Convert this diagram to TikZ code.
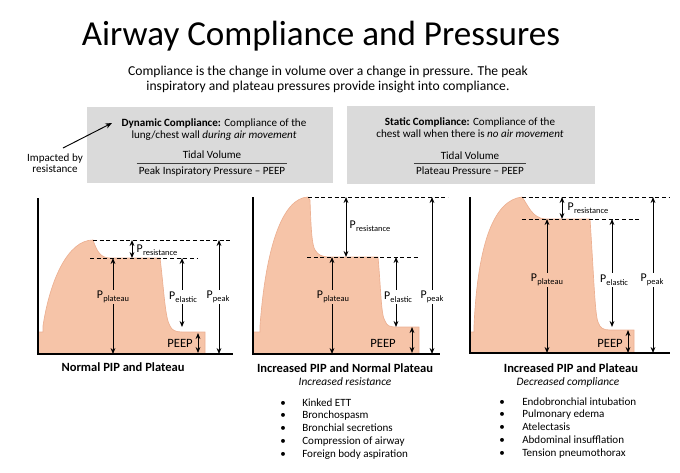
\documentclass[tikz,border=0pt]{standalone}
\usepackage{fontspec}
\setmainfont{Carlito}
\usetikzlibrary{arrows.meta}
\definecolor{peach}{RGB}{246,196,168}
\definecolor{peachline}{RGB}{236,176,146}
\definecolor{boxgray}{RGB}{218,218,218}
\newcommand\fsz[2]{\fontsize{#1}{#2}\selectfont}
\newcommand\Pv[1]{P\kern0.2pt\raisebox{-0.5ex}{\fsz{6.3}{7}#1}}
\begin{document}
\begin{tikzpicture}[x=0.75pt,y=-0.75pt,
  dim/.style={{Stealth[length=4.5pt,width=3.6pt]}-{Stealth[length=4.5pt,width=3.6pt]},line width=0.75pt},
  dline/.style={dash pattern=on 3pt off 2pt,line width=0.7pt},
  axisline/.style={line width=1.3pt},
  wave/.style={fill=peach,draw=peachline,line width=0.5pt},
  plab/.style={font=\fsz{8.9}{10},inner sep=1pt},
  pin/.style={plab,fill=peach},
  pout/.style={plab,fill=white},
  graybox/.style={fill=boxgray,draw=none},
  boxtext/.style={font=\fsz{8.3}{10},anchor=base,inner sep=0pt},
  caption/.style={font=\fsz{9.4}{11}\bfseries,anchor=base,inner sep=0pt},
  sub/.style={font=\fsz{8.5}{10}\itshape,anchor=base,inner sep=0pt},
  item/.style={font=\fsz{8.3}{10},anchor=base west,inner sep=0pt},
  bul/.style={font=\fsz{8.3}{10},anchor=base,inner sep=0pt}
]
\useasboundingbox (0,0) rectangle (680,472);

% titles
\node[anchor=base,inner sep=0pt,font=\fsz{26.3}{30}] (title) at (321,45) {Airway Compliance and Pressures};
\node[anchor=base,inner sep=0pt,font=\fsz{10.2}{12}] (sub1) at (328,75.7) {Compliance is the change in volume over a change in pressure. The peak};
\node[anchor=base,inner sep=0pt,font=\fsz{10.2}{12}] (sub2) at (328,90.7) {inspiratory and plateau pressures provide insight into compliance.};

% gray boxes
\fill[graybox] (87,107) rectangle (333,183);
\fill[graybox] (347,106) rectangle (595,184);

\node[boxtext] (d1) at (214,126.7) {\textbf{Dynamic Compliance:} Compliance of the};
\node[boxtext] (d2) at (214,138.3) {lung/chest wall \textit{during air movement}};
\node[boxtext] (dnum) at (212,158.3) {Tidal Volume};
\node[boxtext] (dden) at (212,174) {Peak Inspiratory Pressure -- PEEP};
\draw[line width=0.8pt,black!75] ([xshift=-1.5pt,yshift=2pt]dden.north west) -- ([xshift=1.5pt,yshift=2pt]dden.north east);

\node[boxtext] (s1) at (470,125.7) {\textbf{Static Compliance:} Compliance of the};
\node[boxtext] (s2) at (470,137.3) {chest wall when there is \textit{no air movement}};
\node[boxtext] (snum) at (470,159) {Tidal Volume};
\node[boxtext] (sden) at (470,174) {Plateau Pressure -- PEEP};
\draw[line width=0.8pt,black!75] ([xshift=-1.5pt,yshift=2pt]sden.north west) -- ([xshift=1.5pt,yshift=2pt]sden.north east);

\node[boxtext] (imp1) at (55,161.7) {Impacted by};
\node[boxtext] (imp2) at (55,172.7) {resistance};
\coordinate (imptail) at (63,148);
\coordinate (imphead) at (112,123);
\draw[-{Stealth[length=5pt,width=4pt]},line width=0.7pt] (imptail) -- (imphead);

% ---------- panel 1 ----------
\path[wave] (38,354) -- (38,332) -- (43,332) -- (43,326)
  .. controls (50,280) and (68,240) .. (93,240)
  .. controls (97,252) and (101,258) .. (110,258) -- (160,258)
  .. controls (164,290) and (165,318) .. (170,326)
  .. controls (172,330) and (175,332) .. (182,332) -- (205,332) -- (205,354) -- cycle;
\draw[axisline] (38,198) -- (38,354) -- (233,354);
\draw[dline] (93,240) -- (230,240);
\draw[dline] (90,258) -- (197,258);
\draw[dim] (132,240) -- (132,258);
\draw[dim] (113,258) -- (113,354);
\draw[dim] (182,258) -- (182,327);
\draw[dim] (219,240) -- (219,354);
\draw[dim] (198,333) -- (198,353);
\node[plab,anchor=west] (p1res) at (135,250) {\Pv{resistance}};
\node[pin] (p1pla) at (113,297) {\Pv{plateau}};
\node[pout] (p1ela) at (183,297) {\Pv{elastic}};
\node[pout] (p1pk) at (218,297) {\Pv{peak}};
\node[plab,font=\fsz{9.5}{10}] (p1peep) at (180,343) {PEEP};
\node[caption] (c1) at (123,371.7) {Normal PIP and Plateau};

% ---------- panel 2 ----------
\path[wave] (253,354) -- (253,332) -- (260,332) -- (260,326)
  .. controls (266,245) and (283,198) .. (308,197)
  -- (310,200) .. controls (311,230) and (312,245) .. (315,250)
  .. controls (318,255) and (322,257) .. (330,257) -- (378,257)
  .. controls (381,290) and (381,315) .. (385,321)
  .. controls (387,326) and (390,327) .. (396,327) -- (419,327) -- (419,354) -- cycle;
\draw[axisline] (253,197) -- (253,354) -- (440,354);
\draw[dline] (308,197) -- (448,197);
\draw[dline] (307,257) -- (420,257);
\draw[dim] (346,197) -- (346,257);
\draw[dim] (332,257) -- (332,354);
\draw[dim] (396,257) -- (396,327);
\draw[dim] (432,197) -- (432,354);
\draw[dim] (412,327) -- (412,353);
\node[plab] (p2res) at (370,226) {\Pv{resistance}};
\node[pin] (p2pla) at (333,297) {\Pv{plateau}};
\node[pout] (p2ela) at (398,297) {\Pv{elastic}};
\node[pout] (p2pk) at (432,297) {\Pv{peak}};
\node[plab,fill=peach,font=\fsz{9.5}{10}] (p2peep) at (383,343) {PEEP};
\node[caption] (c2) at (345,372.7) {Increased PIP and Normal Plateau};
\node[sub] (c2s) at (345,385) {Increased resistance};
\foreach \t [count=\i] in {Kinked ETT,Bronchospasm,Bronchial secretions,Compression of airway,Foreign body aspiration}{
  \node[bul] (b2\i) at (283,{406+(\i-1)*12.85}) {\textbullet};
  \node[item] (t2\i) at (302,{406+(\i-1)*12.85}) {\t};
}

% ---------- panel 3 ----------
\path[wave] (470,353) -- (470,332) -- (474,332) -- (474,326)
  .. controls (478,240) and (495,200) .. (522,197)
  .. controls (528,205) and (532,218) .. (545,219) -- (590,219)
  .. controls (594,280) and (595,315) .. (598,322)
  .. controls (600,328) and (603,330) .. (610,330) -- (634,330) -- (634,353) -- cycle;
\draw[axisline] (470,197) -- (470,353) -- (670,353);
\draw[dline] (522,197) -- (670,197);
\draw[dline] (522,219) -- (640,219);
\draw[dim] (562,197) -- (562,219);
\draw[dim] (547,219) -- (547,353);
\draw[dim] (612,219) -- (612,327);
\draw[dim] (653,197) -- (653,353);
\draw[dim] (628,330) -- (628,353);
\node[plab,anchor=west] (p3res) at (566,208) {\Pv{resistance}};
\node[pin] (p3pla) at (547,280) {\Pv{plateau}};
\node[pout] (p3ela) at (614,280) {\Pv{elastic}};
\node[pout] (p3pk) at (652,280) {\Pv{peak}};
\node[plab,fill=peach,font=\fsz{9.5}{10}] (p3peep) at (610,343) {PEEP};
\node[caption] (c3) at (571,372.7) {Increased PIP and Plateau};
\node[sub] (c3s) at (568,385) {Decreased compliance};
\foreach \t [count=\i] in {Endobronchial intubation,Pulmonary edema,Atelectasis,Abdominal insufflation,Tension pneumothorax}{
  \node[bul] (b3\i) at (502,{405+(\i-1)*12.9}) {\textbullet};
  \node[item] (t3\i) at (522,{405+(\i-1)*12.9}) {\t};
}
\end{tikzpicture}
\end{document}
